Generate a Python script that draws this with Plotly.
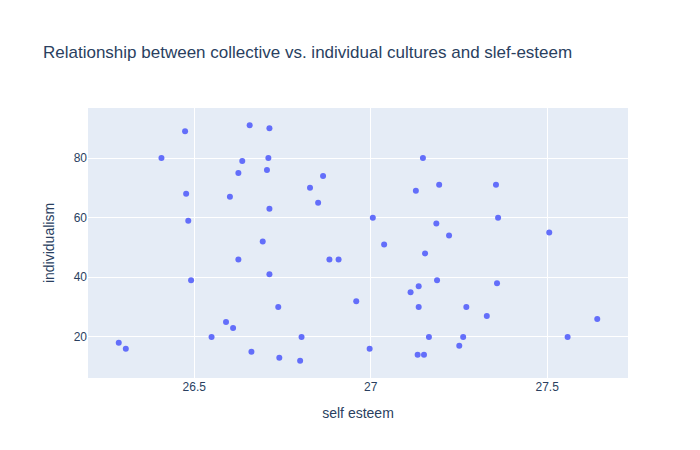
import plotly.graph_objects as go

self_esteem = [26.286,26.306,26.407,26.474,26.477,26.483,26.491,26.549,26.59,26.601,26.61,26.625,26.625,26.636,26.657,26.662,26.694,26.706,26.71,26.713,26.713,26.713,26.738,26.741,26.8,26.804,26.828,26.851,26.865,26.883,26.909,26.959,26.997,27.006,27.038,27.113,27.128,27.133,27.136,27.136,27.148,27.151,27.154,27.165,27.186,27.188,27.194,27.222,27.251,27.262,27.271,27.329,27.355,27.358,27.361,27.506,27.558,27.642]
individualism = [18,16,80,89,68,59,39,20,25,67,23,46,75,79,91,15,52,76,80,90,63,41,30,13,12,20,70,65,74,46,46,32,16,60,51,35,69,14,37,30,80,14,48,20,58,39,71,54,17,20,30,27,71,38,60,55,20,26]

fig = go.Figure(go.Scatter(x=self_esteem, y=individualism, mode="markers",
                           marker=dict(color="#636efa")))
fig.update_layout(width=700, height=450, font=dict(family="Liberation Sans, Arial"),
                  title="Relationship between collective vs. individual cultures and slef-esteem",
                  xaxis=dict(title="self esteem", dtick=0.5),
                  yaxis_title="individualism")
fig.write_html("out.html")
